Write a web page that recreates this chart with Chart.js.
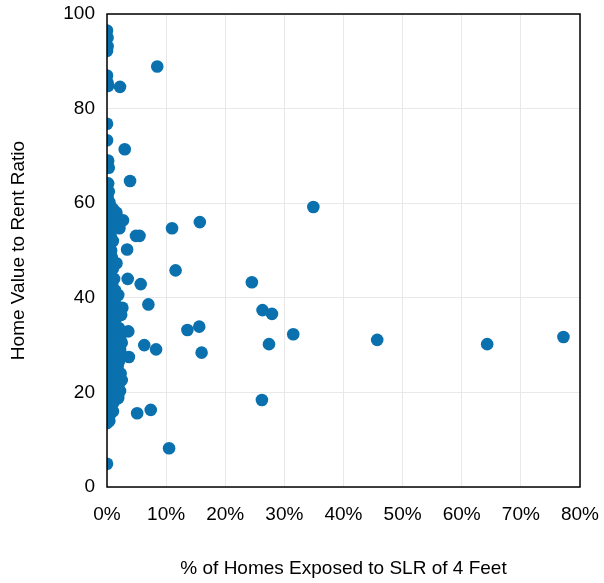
<!DOCTYPE html>
<html>
<head>
<meta charset="utf-8">
<script src="https://cdn.jsdelivr.net/npm/chart.js@4/dist/chart.umd.min.js"></script>
<style>
  html, body { margin: 0; padding: 0; background: #fff; }
  #wrap { width: 604px; height: 583px; }
</style>
</head>
<body>
<div id="wrap"><canvas id="c" width="604" height="583"></canvas></div>
<script>
// % of homes exposed to SLR of 4 feet (x, percent)
const exposurePct = [
  0, 0.1, 0.1, 0, 0, 0.1, 0.2, 2.2, 8.5, 0, 0, 3.0, 0.2, 0.3, 3.9, 0.2, 0.3, 0.1, 0.4,
  0.5, 1.0, 0.3, 1.6, 0.8,
  0.2, 0.6, 1.2, 2.7, 0.1, 0.9, 2.1,
  0.3, 0.6, 0.2, 1.0, 0.4, 0.1, 0.7, 3.4, 4.9, 5.5,
  0.3, 0.8, 0.2, 1.6, 0.5, 1.0, 0.1, 0.6,
  0.3, 1.2, 3.5, 0.5, 0.9, 5.7, 0.2, 1.4, 0.6, 1.9, 0.1, 1.1,
  0.4, 0.8, 7.0, 1.5, 2.6, 0.2, 1.0, 0.5, 2.4, 1.7, 0.1, 0.9,
  0.3, 1.3, 0.6, 2.0, 3.6, 0.2, 1.0, 1.6, 0.5, 2.2, 0.8, 1.4, 2.5, 0.1, 1.9, 0.7,
  1.2, 0.3, 2.2, 0.9, 1.6, 2.4, 0.4, 3.7, 1.3, 0.8, 2.0, 0.2, 1.1, 1.8, 0.5,
  1.4, 0.9, 2.3, 0.2, 1.7, 0.6, 2.5, 1.2, 2.0, 0.4, 1.5, 0.9, 2.2, 0.1,
  1.3, 0.6, 1.9, 0.3, 1.1, 0.7, 0.2, 1.0, 0.5, 0.1, 0.4, 0,
  11.0, 15.7, 34.9, 11.6, 24.5, 26.3, 27.9, 13.6, 15.6, 31.5, 77.2, 45.7, 6.3, 8.3,
  64.3, 27.4, 16.0, 26.2, 7.4, 5.1, 10.5, 0
];
// Home value to rent ratio (y)
const valueRentRatio = [
  96.5, 95.0, 93.2, 92.2, 87.0, 85.5, 84.8, 84.6, 88.9, 76.8, 73.3, 71.4, 69.0, 67.5, 64.7, 64.2, 62.5, 61.3, 60.2,
  59.5, 58.8, 58.2, 58.0, 57.6,
  57.0, 56.2, 56.5, 56.4, 55.4, 55.0, 54.7,
  54.0, 53.2, 52.5, 52.0, 51.2, 50.5, 50.0, 50.2, 53.1, 53.1,
  49.4, 48.6, 48.0, 47.3, 46.8, 46.2, 45.5, 45.0,
  44.5, 44.0, 44.0, 43.3, 42.6, 42.9, 42.0, 41.5, 41.0, 40.6, 40.3, 40.0,
  39.5, 39.0, 38.6, 38.5, 37.9, 38.0, 37.4, 36.8, 36.4, 36.0, 35.6, 35.2,
  34.8, 34.4, 34.0, 33.6, 32.9, 33.2, 32.8, 32.2, 32.0, 31.6, 31.2, 30.8, 30.5, 30.6, 30.2, 30.0,
  29.6, 29.3, 29.0, 28.6, 28.2, 28.1, 27.8, 27.5, 27.3, 26.8, 26.5, 26.2, 25.8, 25.4, 25.0,
  24.6, 24.2, 24.0, 23.6, 23.2, 22.8, 22.6, 22.2, 21.8, 21.5, 21.0, 20.6, 20.3, 20.2,
  19.7, 19.2, 18.8, 18.4, 17.9, 17.2, 16.6, 16.0, 15.4, 14.7, 14.0, 13.5,
  54.7, 56.0, 59.2, 45.8, 43.3, 37.4, 36.6, 33.2, 33.9, 32.3, 31.7, 31.1, 30.0, 29.1,
  30.2, 30.2, 28.4, 18.4, 16.3, 15.6, 8.2, 4.9
];
const xTicks = [0, 10, 20, 30, 40, 50, 60, 70, 80];
const yTicks = [0, 20, 40, 60, 80, 100];

const points = exposurePct.map((x, i) => ({ x: x, y: valueRentRatio[i] }));

const frame = {
  id: 'frame',
  afterDatasetsDraw(chart) {
    const a = chart.chartArea, ctx = chart.ctx;
    ctx.save();
    ctx.strokeStyle = '#000';
    ctx.lineWidth = 1.5;
    ctx.strokeRect(a.left, a.top, a.right - a.left, a.bottom - a.top);
    ctx.restore();
  }
};

const FONT = "'Liberation Sans', Arial, Helvetica, sans-serif";

new Chart(document.getElementById('c'), {
  type: 'scatter',
  data: {
    datasets: [{
      data: points,
      backgroundColor: '#0b71ae',
      borderWidth: 0,
      pointRadius: 6.3,
      pointHoverRadius: 6.3
    }]
  },
  plugins: [frame],
  options: {
    responsive: false,
    animation: false,
    layout: { padding: { top: 14, right: 24, bottom: 0, left: 0 } },
    plugins: { legend: { display: false }, tooltip: { enabled: false } },
    scales: {
      x: {
        type: 'linear',
        min: 0, max: 80,
        afterBuildTicks(s) { s.ticks = xTicks.map(v => ({ value: v })); },
        afterFit(s) { s.height = 96; s.paddingLeft = 0; s.paddingRight = 0; },
        ticks: {
          callback: v => v + '%',
          font: { family: FONT, size: 19 },
          color: '#000',
          padding: 16,
          maxRotation: 0
        },
        grid: { color: '#e8e8e8', lineWidth: 1, drawTicks: false },
        border: { display: false },
        title: {
          display: true,
          text: '% of Homes Exposed to SLR of 4 Feet',
          font: { family: FONT, size: 19 },
          color: '#000',
          padding: { top: 0, bottom: 3 }
        }
      },
      y: {
        type: 'linear',
        min: 0, max: 100,
        afterBuildTicks(s) { s.ticks = yTicks.map(v => ({ value: v })); },
        afterFit(s) { s.width = 107; s.paddingTop = 0; s.paddingBottom = 0; },
        ticks: {
          font: { family: FONT, size: 19 },
          color: '#000',
          padding: 12
        },
        grid: { color: '#e8e8e8', lineWidth: 1, drawTicks: false },
        border: { display: false },
        title: {
          display: true,
          text: 'Home Value to Rent Ratio',
          font: { family: FONT, size: 19 },
          color: '#000',
          padding: { top: 7, bottom: 0 }
        }
      }
    }
  }
});
</script>
</body>
</html>
